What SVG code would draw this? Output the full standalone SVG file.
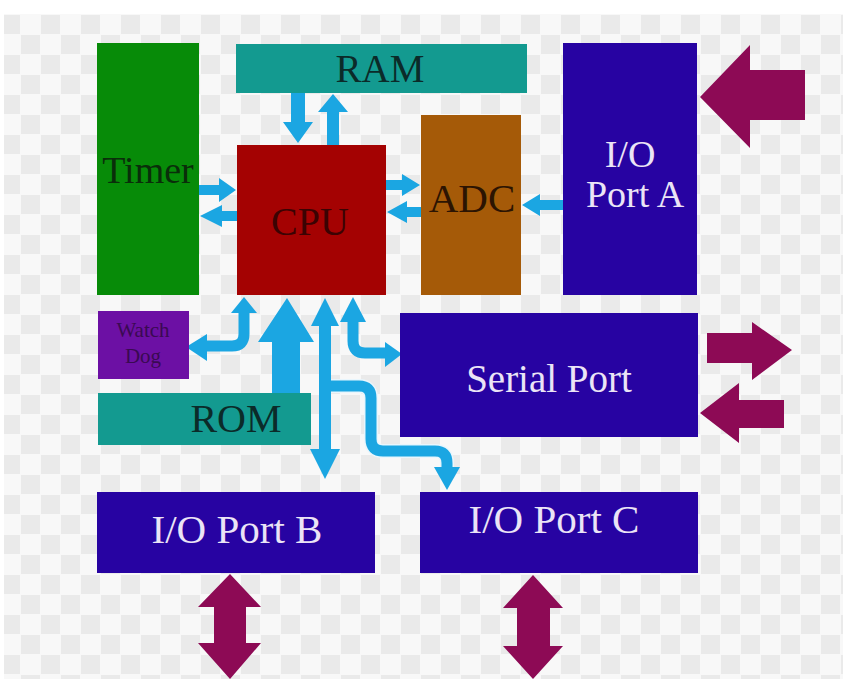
<svg xmlns="http://www.w3.org/2000/svg" width="843" height="679" viewBox="0 0 843 679">
<style>
.lbl{font-family:"Liberation Serif","Times New Roman",serif;text-anchor:middle}
.wt{fill:#ebe4f6}
.blue{fill:#1ba6e2}
.bstroke{fill:none;stroke:#1ba6e2;stroke-width:11;stroke-linejoin:round}
.bedge{fill:none;stroke:#e9f6fd;stroke-width:14;stroke-linejoin:round}
.mag{fill:#8d0a55}
.indigo{fill:#2703a2}
.teal{fill:#139a90}
</style>
<defs>
<pattern id="chk" x="0" y="14" width="40" height="40" patternUnits="userSpaceOnUse">
<rect width="40" height="40" fill="#f8f8f8"/>
<rect x="1" y="1" width="19" height="19" fill="#eaeaea"/>
<rect x="21" y="21" width="19" height="19" fill="#eaeaea"/>
</pattern>
</defs>
<rect width="843" height="679" fill="#ffffff"/>
<rect x="4" y="14" width="839" height="665" fill="url(#chk)"/>

<g id="connectors">
<!-- RAM <-> CPU -->
<polygon class="blue" points="291,93 305,93 305,122 313,122 298,143 283,122 291,122"/>
<polygon class="blue" points="327,145 339,145 339,112 348,112 333,94 318,112 327,112"/>
<!-- Timer <-> CPU -->
<polygon class="blue" points="199,185 219,185 219,178 236,190 219,202 219,195 199,195"/>
<polygon class="blue" points="237,211 222,211 222,205 200,216 222,227 222,221 237,221"/>
<!-- CPU <-> ADC -->
<polygon class="blue" points="386,180 402,180 402,174 420,185 402,196 402,190 386,190"/>
<polygon class="blue" points="421,207 407,207 407,201 387,212 407,223 407,217 421,217"/>
<!-- Port A -> ADC -->
<polygon class="blue" points="563,200 540,200 540,194 522,205 540,216 540,210 563,210"/>
<!-- CPU <-> Watch Dog -->
<path class="bstroke" d="M244,312 V334 Q244,346 232,346 H204"/>
<polygon class="blue" points="244,297 257,313 231,313"/>
<polygon class="blue" points="186,347 207,334 207,361"/>
<!-- ROM -> CPU -->
<polygon class="blue" points="272,394 300,394 300,342 314,342 287,298 258,342 272,342"/>
<!-- CPU <-> I/O Port B -->
<polygon class="blue" points="325,298 339,326 331,326 331,449 340,449 325,479 310,449 319,449 319,326 311,326"/>
<!-- CPU <-> Serial Port -->
<path class="bstroke" d="M353,320 V341 Q353,353 365,353 H387"/>
<polygon class="blue" points="353,297 366,322 340,322"/>
<polygon class="blue" points="402,354 385,342 385,367"/>
<!-- bus -> I/O Port C -->
<path class="bedge" d="M331,386 H359 Q371,386 371,398 V439 Q371,451 383,451 H435 Q447,451 447,463 V468"/>
<path class="bstroke" d="M331,386 H359 Q371,386 371,398 V439 Q371,451 383,451 H435 Q447,451 447,463 V468"/>
<polygon class="blue" points="447,490 434,467 460,467"/>
<!-- external magenta arrows -->
<polygon class="mag" points="805,70 750,70 750,45 700,97 750,148 750,120 805,120"/>
<polygon class="mag" points="707,333 752,333 752,322 792,350 752,380 752,363 707,363"/>
<polygon class="mag" points="784,400 739,400 739,383 700,413 739,443 739,428 784,428"/>
<polygon class="mag" points="230,574 261,607 246,607 246,643 261,643 230,679 198,643 214,643 214,607 198,607"/>
<polygon class="mag" points="533,575 563,608 550,608 550,646 563,646 533,679 503,646 517,646 517,608 503,608"/>
</g>

<g id="timer">
<rect x="97" y="43" width="102" height="252" fill="#078b08"/>
<text class="lbl" x="148" y="183" font-size="38" fill="#0a2e0a">Timer</text>
</g>
<g id="ram">
<rect class="teal" x="236" y="44" width="291" height="49"/>
<text class="lbl" x="380" y="82" font-size="39" fill="#0b2b29">RAM</text>
</g>
<g id="cpu">
<rect x="237" y="145" width="149" height="150" fill="#a40202"/>
<text class="lbl" x="310" y="235" font-size="40" fill="#3b0303">CPU</text>
</g>
<g id="adc">
<rect x="421" y="115" width="100" height="180" fill="#a55a08"/>
<text class="lbl" x="472" y="212" font-size="41" fill="#2c1402">ADC</text>
</g>
<g id="port-a">
<rect class="indigo" x="563" y="43" width="134" height="252"/>
<text class="lbl wt" x="630" y="167" font-size="38">I/O</text>
<text class="lbl wt" x="635" y="207" font-size="38">Port A</text>
</g>
<g id="watchdog">
<rect x="98" y="311" width="91" height="68" fill="#6c10a4"/>
<text class="lbl" x="143" y="337" font-size="21" fill="#3a0a52">Watch</text>
<text class="lbl" x="143" y="363" font-size="21" fill="#3a0a52">Dog</text>
</g>
<g id="rom">
<rect class="teal" x="98" y="393" width="213" height="52"/>
<text class="lbl" x="236" y="432" font-size="40" fill="#0b2b29">ROM</text>
</g>
<g id="serial-port">
<rect class="indigo" x="400" y="313" width="298" height="124"/>
<text class="lbl wt" x="549" y="392" font-size="39">Serial Port</text>
</g>
<g id="port-b">
<rect class="indigo" x="97" y="492" width="278" height="81"/>
<text class="lbl wt" x="237" y="543" font-size="41">I/O Port B</text>
</g>
<g id="port-c">
<rect class="indigo" x="420" y="492" width="278" height="81"/>
<text class="lbl wt" x="554" y="533" font-size="41">I/O Port C</text>
</g>
</svg>
